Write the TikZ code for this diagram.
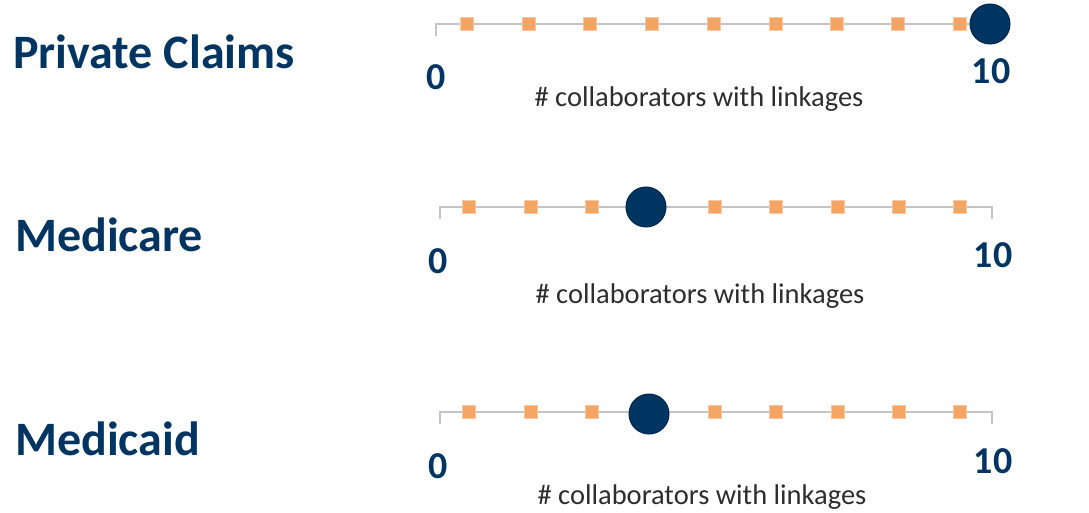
\documentclass[tikz,border=0pt]{standalone}
\usepackage{fontspec}
\setmainfont{Carlito}
\definecolor{navy}{RGB}{0,53,98}
\definecolor{darknavy}{RGB}{0,38,72}
\definecolor{peach}{RGB}{244,165,99}
\definecolor{axisgray}{RGB}{196,196,196}
\definecolor{captiongray}{RGB}{45,45,45}
\tikzset{
  rowtitle/.style={anchor=west, inner sep=0pt, text=navy, font=\bfseries\fontsize{48}{48}\selectfont},
  endlabel/.style={inner sep=0pt, text=navy, font=\bfseries\fontsize{38}{38}\selectfont},
  caption/.style={inner sep=0pt, text=captiongray, font=\fontsize{28.5}{28.5}\selectfont},
  axis/.style={draw=axisgray, line width=1.3pt},
  mark sq/.style={rectangle, minimum size=13pt, inner sep=0pt, fill=peach, draw=peach!60!white, line width=0.6pt},
  value dot/.style={circle, minimum size=40pt, inner sep=0pt, fill=navy, draw=darknavy, line width=1pt}
}
\begin{document}
\begin{tikzpicture}[x=1pt,y=-1pt]
            \useasboundingbox (0,0) rectangle (1089,513);
            % row titles
            \node[rowtitle] (private) at (13,52) {Private Claims};
            \node[rowtitle] (medicare) at (15,235) {Medicare};
            \node[rowtitle] (medicaid) at (15,439) {Medicaid};
            % private claims axis
            \coordinate (pL) at (436,24);
            \coordinate (pR) at (993,24);
            \coordinate (pLt) at (436,36);
            \draw[axis] (pLt) -- (pL) -- (pR);
            \node[mark sq] (p1) at (467,24) {};
            \node[mark sq] (p2) at (529,24) {};
            \node[mark sq] (p3) at (590,24) {};
            \node[mark sq] (p4) at (652,24) {};
            \node[mark sq] (p5) at (714,24) {};
            \node[mark sq] (p6) at (776,24) {};
            \node[mark sq] (p7) at (837,24) {};
            \node[mark sq] (p8) at (898,24) {};
            \node[mark sq] (p9) at (960,24) {};
            \node[value dot] (pdot) at (990,24) {};
            \node[endlabel] (p0) at (436,77) {0};
            \node[endlabel] (p10) at (991,71) {10};
            \node[caption] (pcap) at (699,99) {\# collaborators with linkages};
            % medicare axis
            \coordinate (mL) at (440,207);
            \coordinate (mR) at (992,207);
            \coordinate (mLt) at (440,219);
            \coordinate (mRt) at (992,219);
            \draw[axis] (mLt) -- (mL) -- (mR) -- (mRt);
            \node[mark sq] (m1) at (469,207) {};
            \node[mark sq] (m2) at (531,207) {};
            \node[mark sq] (m3) at (592,207) {};
            \node[mark sq] (m4) at (715,207) {};
            \node[mark sq] (m5) at (776,207) {};
            \node[mark sq] (m6) at (838,207) {};
            \node[mark sq] (m7) at (899,207) {};
            \node[mark sq] (m8) at (960,207) {};
            \node[value dot] (mdot) at (646,207) {};
            \node[endlabel] (m0) at (438,261) {0};
            \node[endlabel] (m10) at (993,255) {10};
            \node[caption] (mcap) at (700,296) {\# collaborators with linkages};
            % medicaid axis
            \coordinate (dL) at (440,412);
            \coordinate (dR) at (992,412);
            \coordinate (dLt) at (440,424);
            \coordinate (dRt) at (992,424);
            \draw[axis] (dLt) -- (dL) -- (dR) -- (dRt);
            \node[mark sq] (d1) at (469,412) {};
            \node[mark sq] (d2) at (531,412) {};
            \node[mark sq] (d3) at (592,412) {};
            \node[mark sq] (d4) at (715,412) {};
            \node[mark sq] (d5) at (776,412) {};
            \node[mark sq] (d6) at (838,412) {};
            \node[mark sq] (d7) at (899,412) {};
            \node[mark sq] (d8) at (960,412) {};
            \node[value dot] (ddot) at (649,414) {};
            \node[endlabel] (d0) at (438,466) {0};
            \node[endlabel] (d10) at (993,461) {10};
            \node[caption] (dcap) at (702,497) {\# collaborators with linkages};
        \end{tikzpicture}
\end{document}
